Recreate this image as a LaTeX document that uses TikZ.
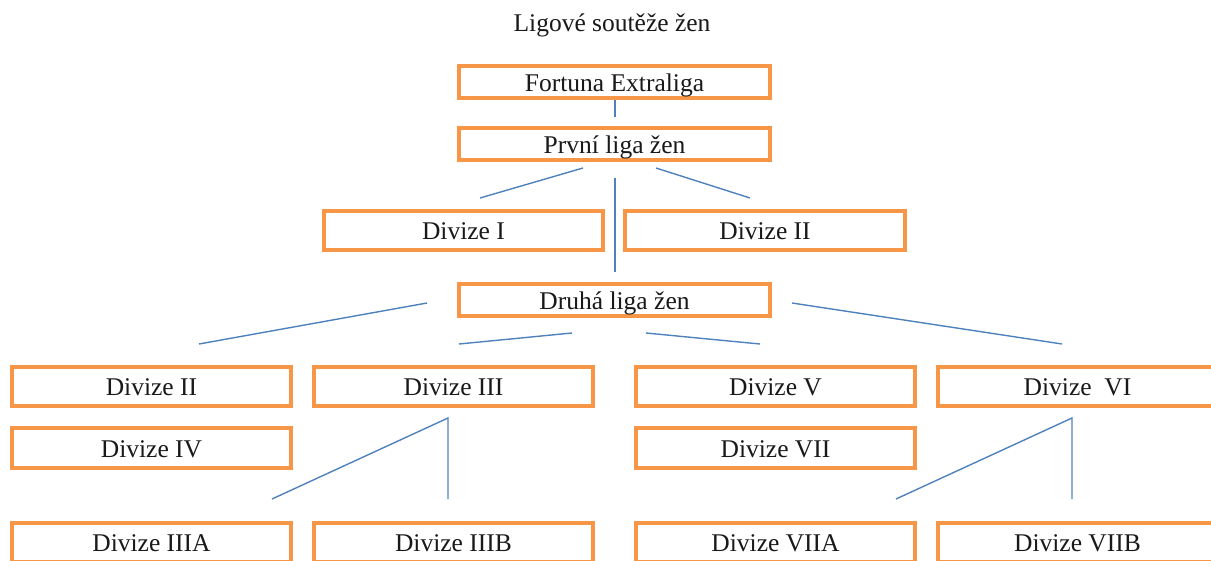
\documentclass[tikz,border=0pt]{standalone}
\usepackage{fontspec}
\setmainfont{Liberation Serif}
\definecolor{boxorange}{HTML}{F79646}
\definecolor{lineblue}{HTML}{4F81BD}
\tikzset{
  txt/.style={font=\fontsize{25.5}{30}\selectfont, text=black!90},
  boxbase/.style={txt, draw=boxorange, line width=4pt, fill=white, inner sep=0pt, outer sep=0pt,
    text height=18pt, text depth=0pt},
  lbox/.style={boxbase, minimum width=311pt, minimum height=32pt},
  dbox/.style={boxbase, minimum width=279pt, minimum height=39pt},
  link/.style={draw=lineblue, line width=1.4pt},
}
\begin{document}
\begin{tikzpicture}[x=1pt,y=-1pt]
\useasboundingbox (0,0) rectangle (1211,560);
\clip (0,0) rectangle (1211,560);
% title
\node[txt, text height=18pt, text depth=0pt] (title) at (612,22) {Ligové soutěže žen};
% top boxes
\node[lbox] (fort) at (614.5,82) {Fortuna Extraliga};
\node[lbox] (prvni) at (614.5,144) {První liga žen};
\node[dbox] (d1) at (463.5,230.5) {Divize I};
\node[dbox, minimum width=280pt] (d2top) at (765,230.5) {Divize II};
\node[lbox] (druha) at (614.5,300) {Druhá liga žen};
% row 4
\node[dbox] (d2) at (151.5,386.5) {Divize II};
\node[dbox] (d3) at (453.5,386.5) {Divize III};
\node[dbox] (d5) at (775.5,386.5) {Divize V};
\node[dbox] (d6) at (1077.5,386.5) {Divize\ \ VI};
% row 5
\node[dbox, minimum height=40pt] (d4) at (151.5,448) {Divize IV};
\node[dbox, minimum height=40pt] (d7) at (775.5,448) {Divize VII};
% row 6
\node[dbox] (d3a) at (151.5,542.5) {Divize IIIA};
\node[dbox] (d3b) at (453.5,542.5) {Divize IIIB};
\node[dbox] (d7a) at (775.5,542.5) {Divize VIIA};
\node[dbox] (d7b) at (1077.5,542.5) {Divize VIIB};
% free line ends
\coordinate (fa) at (615,100);
\coordinate (fb) at (615,117);
\coordinate (pl1) at (583,168);
\coordinate (pl2) at (480,198);
\coordinate (pc1) at (615,178);
\coordinate (pc2) at (615,272);
\coordinate (pr1) at (656,168);
\coordinate (pr2) at (750,198);
\coordinate (dlf1) at (427,303);
\coordinate (dlf2) at (199,344);
\coordinate (dln1) at (572,333);
\coordinate (dln2) at (459,344);
\coordinate (drn1) at (646,333);
\coordinate (drn2) at (760,344);
\coordinate (drf1) at (792,303);
\coordinate (drf2) at (1062,344);
\coordinate (t3) at (448,418);
\coordinate (t3a) at (272,499);
\coordinate (t3b) at (448,499);
\coordinate (t6) at (1072,418);
\coordinate (t6a) at (896,499);
\coordinate (t6b) at (1072,499);
% lines
\draw[link] (fa) -- (fb);
\draw[link] (pl1) -- (pl2);
\draw[link] (pc1) -- (pc2);
\draw[link] (pr1) -- (pr2);
\draw[link] (dlf1) -- (dlf2);
\draw[link] (dln1) -- (dln2);
\draw[link] (drn1) -- (drn2);
\draw[link] (drf1) -- (drf2);
\draw[link] (t3a) -- (t3) -- (t3b);
\draw[link] (t6a) -- (t6) -- (t6b);
\end{tikzpicture}
\end{document}
